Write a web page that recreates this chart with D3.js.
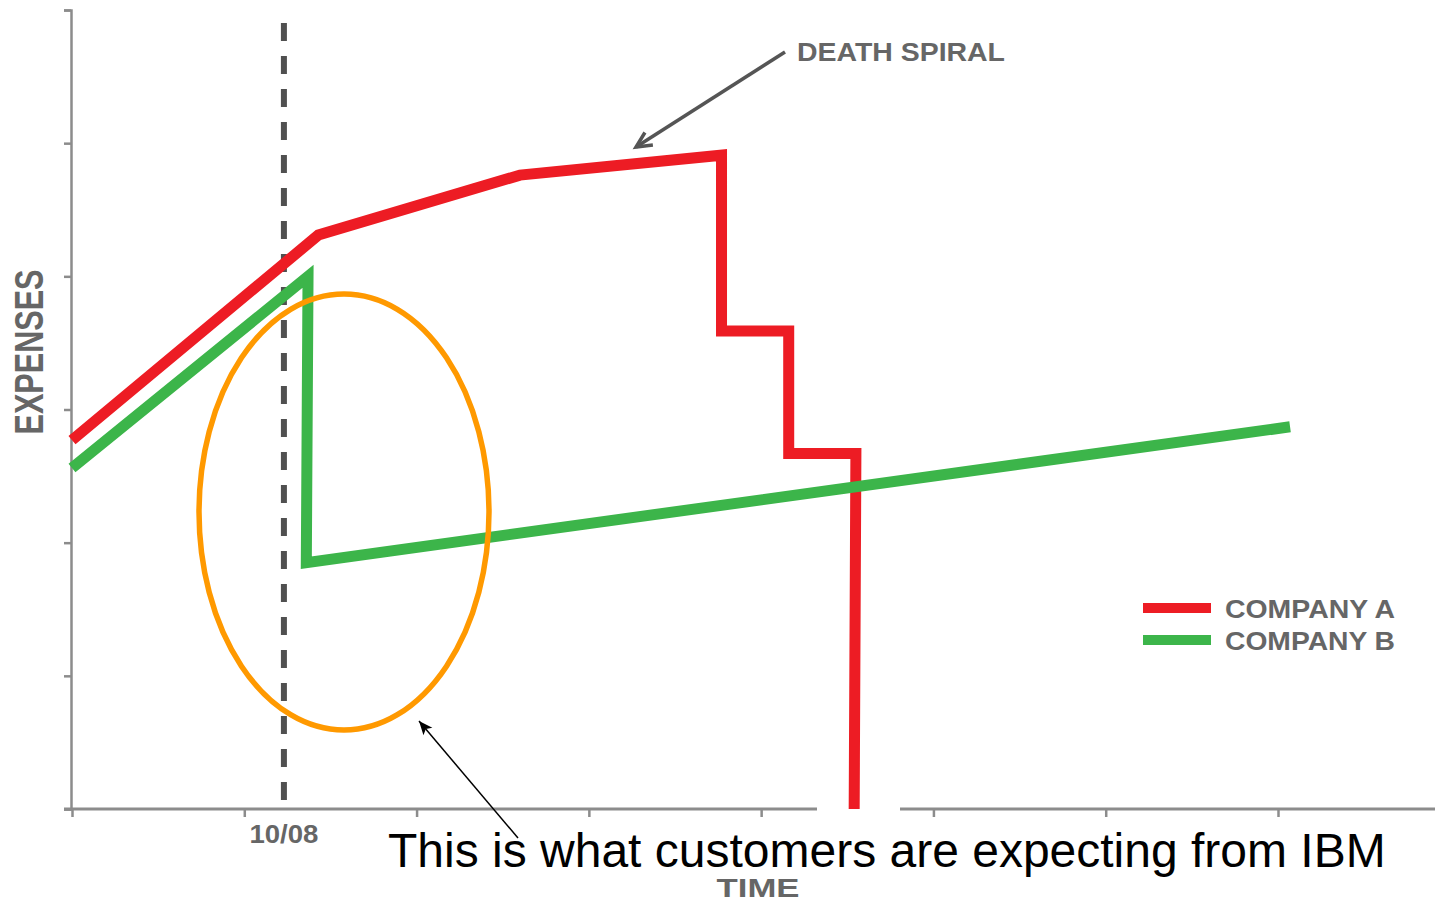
<!DOCTYPE html>
<html>
<head>
<meta charset="utf-8">
<script src="https://cdn.jsdelivr.net/npm/d3@7"></script>
<style>
  html, body { margin: 0; padding: 0; background: #fff; }
  svg { display: block; }
</style>
</head>
<body>
<div id="chart"></div>
<script>
const width = 1435;
const height = 903;

// data
const xTicks = [0, 1, 2, 3, 4, 5, 6, 7];
const yTicks = [0, 1, 2, 3, 4, 5, 6];
const markerTime = 1.23;
const markerLabel = "10/08";

const companyA = [
    { t: 0, v: 2.77 },
    { t: 1.43, v: 4.31 },
    { t: 2.60, v: 4.76 },
    { t: 3.77, v: 4.91 },
    { t: 3.77, v: 3.59 },
    { t: 4.16, v: 3.59 },
    { t: 4.16, v: 2.67 },
    { t: 4.55, v: 2.67 },
    { t: 4.54, v: 0 }
];

const companyB = [
    { t: 0, v: 2.56 },
    { t: 1.37, v: 4.00 },
    { t: 1.36, v: 1.85 },
    { t: 7.07, v: 2.87 }
];

const series = [
    { name: "COMPANY A", values: companyA, color: "#ed1c24" },
    { name: "COMPANY B", values: companyB, color: "#3cb54a" }
];

const grey = "#666";
const axisGrey = "#8c8c8c";
const font = "Liberation Sans, Arial, sans-serif";

const svg = d3.select("#chart")
    .append("svg")
    .attr("width", width)
    .attr("height", height);

const x = d3.scaleLinear().domain([0, 7]).range([72, 1278]);
const y = d3.scaleLinear().domain([0, 6]).range([809, 10]);

// ------------------
// axes
// ------------------
const yAxis = svg.append("g")
    .attr("transform", `translate(${x(0) - 1},0)`)
    .call(d3.axisLeft(y).tickValues(yTicks).tickSize(7).tickSizeOuter(7).tickFormat(""));

yAxis.selectAll("path, line").attr("stroke", axisGrey).attr("stroke-width", 2.5);

const xAxis = svg.append("g")
    .attr("transform", `translate(0,${y(0)})`)
    .call(d3.axisBottom(x).tickValues(xTicks).tickSize(8).tickFormat(""));

xAxis.select(".domain").remove();
xAxis.selectAll("line").attr("stroke", axisGrey).attr("stroke-width", 2.5);

// the baseline has a break under the red drop
[[64, 817], [900, width]].forEach(seg => {
    xAxis.append("line")
        .attr("x1", seg[0])
        .attr("x2", seg[1])
        .attr("stroke", axisGrey)
        .attr("stroke-width", 3);
});

// ------------------
// marker line 10/08
// ------------------
svg.append("line")
    .attr("x1", x(markerTime))
    .attr("x2", x(markerTime))
    .attr("y1", 23)
    .attr("y2", y(0) - 1)
    .attr("stroke", "#505050")
    .attr("stroke-width", 6)
    .attr("stroke-dasharray", "18,15");

svg.append("text")
    .attr("x", x(markerTime))
    .attr("y", 843)
    .attr("text-anchor", "middle")
    .attr("font-family", font)
    .attr("font-weight", "bold")
    .attr("font-size", 25)
    .attr("fill", grey)
    .attr("textLength", 69)
    .attr("lengthAdjust", "spacingAndGlyphs")
    .text(markerLabel);

// ------------------
// lines
// ------------------
const line = d3.line()
    .x(d => x(d.t))
    .y(d => y(d.v));

svg.selectAll(".series")
    .data(series)
    .enter()
    .append("path")
    .attr("d", d => line(d.values))
    .attr("fill", "none")
    .attr("stroke", d => d.color)
    .attr("stroke-width", 11)
    .attr("stroke-linejoin", "miter")
    .attr("stroke-miterlimit", 10);

// ------------------
// axis titles
// ------------------
svg.append("text")
    .attr("transform", "translate(43,352) rotate(-90)")
    .attr("text-anchor", "middle")
    .attr("font-family", font)
    .attr("font-weight", "bold")
    .attr("font-size", 40)
    .attr("fill", grey)
    .attr("textLength", 165)
    .attr("lengthAdjust", "spacingAndGlyphs")
    .text("EXPENSES");

svg.append("text")
    .attr("x", 758)
    .attr("y", 897)
    .attr("text-anchor", "middle")
    .attr("font-family", font)
    .attr("font-weight", "bold")
    .attr("font-size", 26)
    .attr("fill", grey)
    .attr("textLength", 83)
    .attr("lengthAdjust", "spacingAndGlyphs")
    .text("TIME");

// ------------------
// legend
// ------------------
const legend = svg.selectAll(".legend")
    .data(series)
    .enter()
    .append("g")
    .attr("transform", (d, i) => `translate(1143,${608 + i * 32})`);

legend.append("line")
    .attr("x1", 0)
    .attr("x2", 68)
    .attr("stroke", d => d.color)
    .attr("stroke-width", 10);

legend.append("text")
    .attr("x", 82)
    .attr("y", 10)
    .attr("font-family", font)
    .attr("font-weight", "bold")
    .attr("font-size", 25)
    .attr("fill", grey)
    .attr("textLength", 170)
    .attr("lengthAdjust", "spacingAndGlyphs")
    .text(d => d.name);

// ------------------
// death spiral annotation
// ------------------
svg.append("text")
    .attr("x", 797)
    .attr("y", 61)
    .attr("font-family", font)
    .attr("font-weight", "bold")
    .attr("font-size", 26)
    .attr("fill", grey)
    .attr("textLength", 208)
    .attr("lengthAdjust", "spacingAndGlyphs")
    .text("DEATH SPIRAL");

// straight arrow, returns the two back corners of the head
function arrow(x1, y1, x2, y2, color, w, head, spread) {
    const a = Math.atan2(y2 - y1, x2 - x1);
    svg.append("line")
        .attr("x1", x1).attr("y1", y1)
        .attr("x2", x2).attr("y2", y2)
        .attr("stroke", color)
        .attr("stroke-width", w);
    const p1 = [x2 - head * Math.cos(a - spread), y2 - head * Math.sin(a - spread)];
    const p2 = [x2 - head * Math.cos(a + spread), y2 - head * Math.sin(a + spread)];
    const back = [x2 - head * 0.7 * Math.cos(a), y2 - head * 0.7 * Math.sin(a)];
    return { p1, p2, back };
}

const ds = arrow(785, 52, 636, 147, "#555", 3.5, 17, 0.45);
svg.append("path")
    .attr("d", `M${ds.p1}L636,147L${ds.p2}`)
    .attr("fill", "none")
    .attr("stroke", "#555")
    .attr("stroke-width", 3.5)
    .attr("stroke-linejoin", "miter");

// ------------------
// highlight ellipse + caption
// ------------------
svg.append("ellipse")
    .attr("cx", 344)
    .attr("cy", 512)
    .attr("rx", 145)
    .attr("ry", 218)
    .attr("fill", "none")
    .attr("stroke", "#ff9900")
    .attr("stroke-width", 5.5);

const cap = arrow(518, 838, 419, 721, "#000", 1.5, 15, 0.4);
svg.append("path")
    .attr("d", `M419,721L${cap.p1}L${cap.back}L${cap.p2}Z`)
    .attr("fill", "#000");

svg.append("text")
    .attr("x", 388)
    .attr("y", 867)
    .attr("font-family", font)
    .attr("font-size", 48)
    .attr("fill", "#000")
    .text("This is what customers are expecting from IBM");
</script>
</body>
</html>
